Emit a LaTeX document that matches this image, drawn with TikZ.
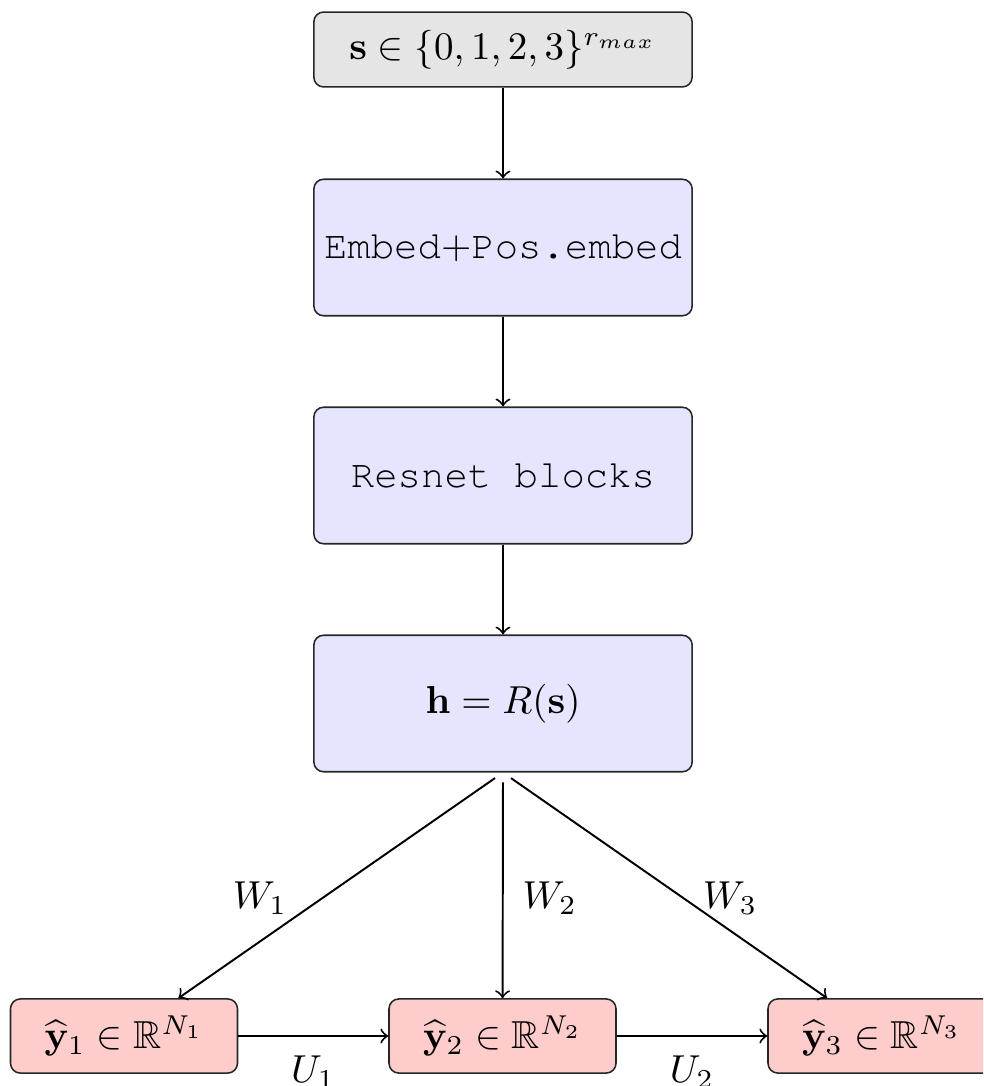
\documentclass[tikz,border=0pt]{standalone}
\usepackage{amsmath,amssymb}
\usepackage[T1,TU]{fontenc}
\newcommand{\cour}[1]{{\fontencoding{T1}\fontfamily{pcr}\selectfont #1}}
\begin{document}
\begin{tikzpicture}[x=0.25641pt, y=-0.25641pt,
  box/.style={draw=black!85, line width=0.4pt, rounded corners=2.5pt,
              inner sep=0pt, align=center},
  inbox/.style={box, fill=gray!20, minimum width=97pt, minimum height=19.2pt},
  netbox/.style={box, fill=blue!10, minimum width=97pt, minimum height=35pt},
  outbox/.style={box, fill=red!20, minimum width=58.2pt, minimum height=19pt},
  flow/.style={->, line width=0.5pt}]
  \clip (0,0) rectangle (983,1086);

  % pipeline
  \node[inbox]  (inp) at (503,49.5)  {$\mathbf{s}\in\{0,1,2,3\}^{r_{max}}$};
  \node[netbox] (emb) at (503,247.5) {\cour{Embed}$+$\cour{Pos.embed}};
  \node[netbox] (res) at (503,475.5) {\cour{Resnet blocks}};
  \node[netbox] (hid) at (503,703.5) {$\mathbf{h}=R(\mathbf{s})$};

  % output heads
  \node[outbox] (y1) at (124,1036)   {$\widehat{\mathbf{y}}_1\in\mathbb{R}^{N_1}$};
  \node[outbox] (y2) at (502.5,1036) {$\widehat{\mathbf{y}}_2\in\mathbb{R}^{N_2}$};
  \node[outbox] (y3) at (881.5,1036) {$\widehat{\mathbf{y}}_3\in\mathbb{R}^{N_3}$};

  \draw[flow] (inp) -- (emb);
  \draw[flow] (emb) -- (res);
  \draw[flow] (res) -- (hid);

  \draw[flow, shorten <=2.5pt] (hid.south) -- (y1) node[pos=0.557, left=5.4pt] (w1) {$W_1$};
  \draw[flow, shorten <=2.5pt] (hid.south) -- (y2) node[pos=0.557, right=1.5pt] (w2) {$W_2$};
  \draw[flow, shorten <=2.5pt] (hid.south) -- (y3) node[pos=0.557, right=1.4pt] (w3) {$W_3$};

  \draw[flow] (y1) -- (y2) node[midway, below=1.5pt] (u1) {$U_1$};
  \draw[flow] (y2) -- (y3) node[midway, below=1.5pt] (u2) {$U_2$};
\end{tikzpicture}
\end{document}
